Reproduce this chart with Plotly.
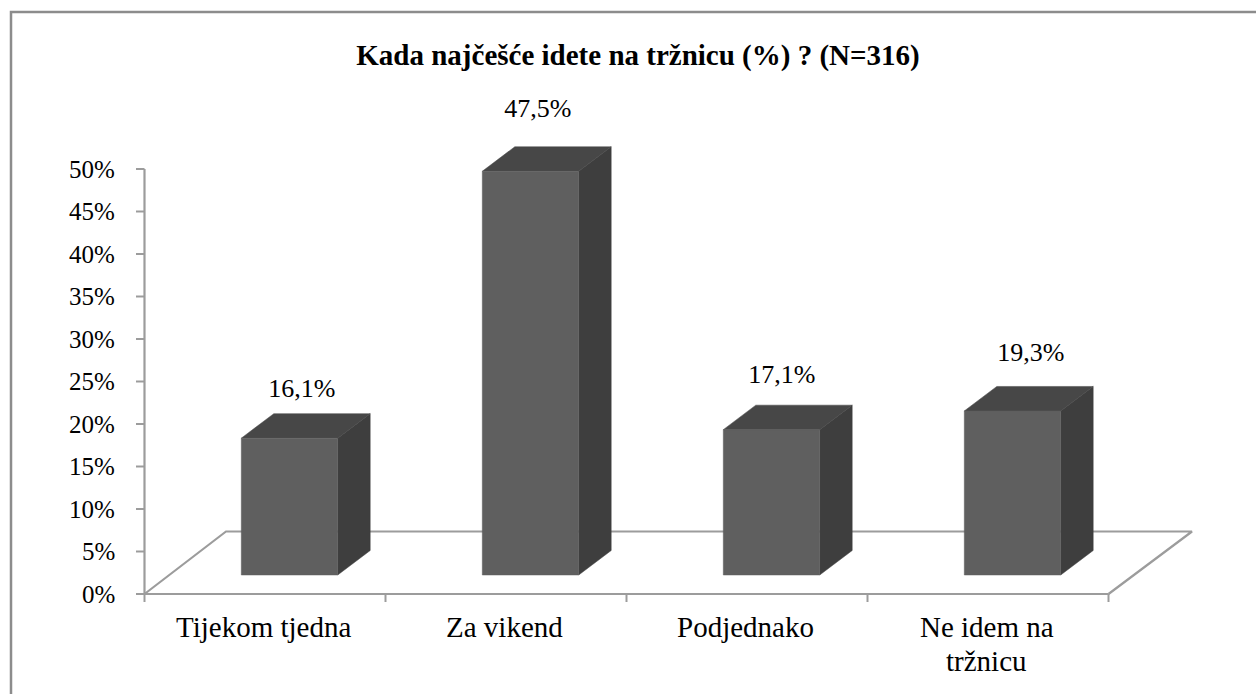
import plotly.graph_objects as go

# ---- data ----
categories = ["Tijekom tjedna", "Za vikend", "Podjednako", "Ne idem na<br>tržnicu"]
values = [16.1, 47.5, 17.1, 19.3]
value_labels = ["16,1%", "47,5%", "17,1%", "19,3%"]
y_ticks = [0, 5, 10, 15, 20, 25, 30, 35, 40, 45, 50]
title_text = "Kada najčešće idete na tržnicu (%) ? (N=316)"

# ---- layout constants (pixels) ----
W, H = 1256, 694
PX0, PCAT = 144.5, 241.0       # x pixel of axis start, category width
PY0, PPCT = 594.0, 8.5         # y pixel of 0 %, pixels per 1 %
DX = 32.5 / PCAT               # bar depth in x units
DY = 24.5 / PPCT               # bar depth in y units
FLOOR_DX_L = 81.5 / PCAT
FLOOR_DX_R = 83.5 / PCAT
FLOOR_DY = 62.5 / PPCT
BASE = 19.0 / PPCT             # front bottom edge above 0 %
BAR_W = 96.4 / PCAT
BAR_SHIFT = (289.5 - (PX0 + PCAT / 2)) / PCAT
LABEL_NUDGE_X = [-4, -9, -6, 2]   # pixel nudges of the value labels
LABEL_NUDGE_Y = [-9, 5, -3, 0]

X_MIN = (0 - PX0) / PCAT - 0.5
X_MAX = (W - PX0) / PCAT - 0.5
Y_MAX = PY0 / PPCT
Y_MIN = (PY0 - H) / PPCT

AXIS = "#9c9c9c"
FRONT, SIDE, TOP = "#5f5f5f", "#3e3e3e", "#474747"
FONT = "Liberation Serif"

fig = go.Figure()


def line(xs, ys, width=2.2):
    fig.add_trace(go.Scatter(x=xs, y=ys, mode="lines", hoverinfo="skip", showlegend=False,
                             line=dict(color=AXIS, width=width)))


def poly(xs, ys, color):
    fig.add_trace(go.Scatter(x=xs, y=ys, mode="lines", fill="toself", fillcolor=color,
                             hoverinfo="skip", showlegend=False, line=dict(color=color, width=0.5)))


n = len(categories)
# floor
line([-0.5, -0.5 + FLOOR_DX_L, n - 0.5 + FLOOR_DX_R, n - 0.5], [0, FLOOR_DY, FLOOR_DY, 0])
# axes
line([-0.5, n - 0.5], [0, 0])
line([-0.5, -0.5], [0, 50])

# bars
for i, v in enumerate(values):
    c = i + BAR_SHIFT
    xl, xr = c - BAR_W / 2, c + BAR_W / 2
    top = BASE + v
    poly([xr, xr + DX, xr + DX, xr, xr], [BASE, BASE + DY, top + DY, top, BASE], SIDE)
    poly([xl, xl + DX, xr + DX, xr, xl], [top, top + DY, top + DY, top, top], TOP)
    poly([xl, xr, xr, xl, xl], [BASE, BASE, top, top, BASE], FRONT)

# value labels
fig.add_trace(go.Scatter(
    x=[i + BAR_SHIFT + DX / 2 + LABEL_NUDGE_X[i] / PCAT for i in range(n)],
    y=[BASE + v + DY + 2.2 + LABEL_NUDGE_Y[i] / PPCT for i, v in enumerate(values)],
    mode="text", text=value_labels, textposition="top center", hoverinfo="skip", showlegend=False,
    textfont=dict(family=FONT, size=26, color="#000000")))

fig.update_layout(
    width=W, height=H, margin=dict(l=0, r=0, t=0, b=0),
    paper_bgcolor="white", plot_bgcolor="white", showlegend=False,
    title=dict(text="<b>" + title_text + "</b>", x=638 / W, xanchor="center",
               y=1 - 55 / H, yanchor="middle", font=dict(family=FONT, size=29, color="#000000")),
    xaxis=dict(range=[X_MIN, X_MAX], showgrid=False, zeroline=False, showticklabels=False, ticks=""),
    yaxis=dict(range=[Y_MIN, Y_MAX], showgrid=False, zeroline=False, showticklabels=False, ticks=""),
    shapes=[dict(type="rect", xref="paper", yref="paper", x0=11 / W, x1=1.01,
                 y0=-0.01, y1=1 - 12 / H, line=dict(color="#8c8c8c", width=2.5), fillcolor="rgba(0,0,0,0)")],
)

# ticks and tick labels
for t in y_ticks:
    line([-0.5 - 8.5 / PCAT, -0.5], [t, t], 2)
    fig.add_annotation(x=-0.5 - 28.0 / PCAT, y=t, text=f"{t}%", showarrow=False, xanchor="right",
                       yanchor="middle", font=dict(family=FONT, size=25, color="#000000"))
for i in range(n + 1):
    line([i - 0.5, i - 0.5], [0, -8.0 / PPCT], 2)
for i, c in enumerate(categories):
    for j, part in enumerate(c.split("<br>")):
        fig.add_annotation(x=i - 1.5 / PCAT, y=-(627 + 34 * j - PY0) / PPCT, text=part, showarrow=False,
                           xanchor="center", yanchor="middle", align="center",
                           font=dict(family=FONT, size=29, color="#000000"))

fig.write_html("out.html", config={"displayModeBar": False},
               post_script="document.body.style.margin='0';")
